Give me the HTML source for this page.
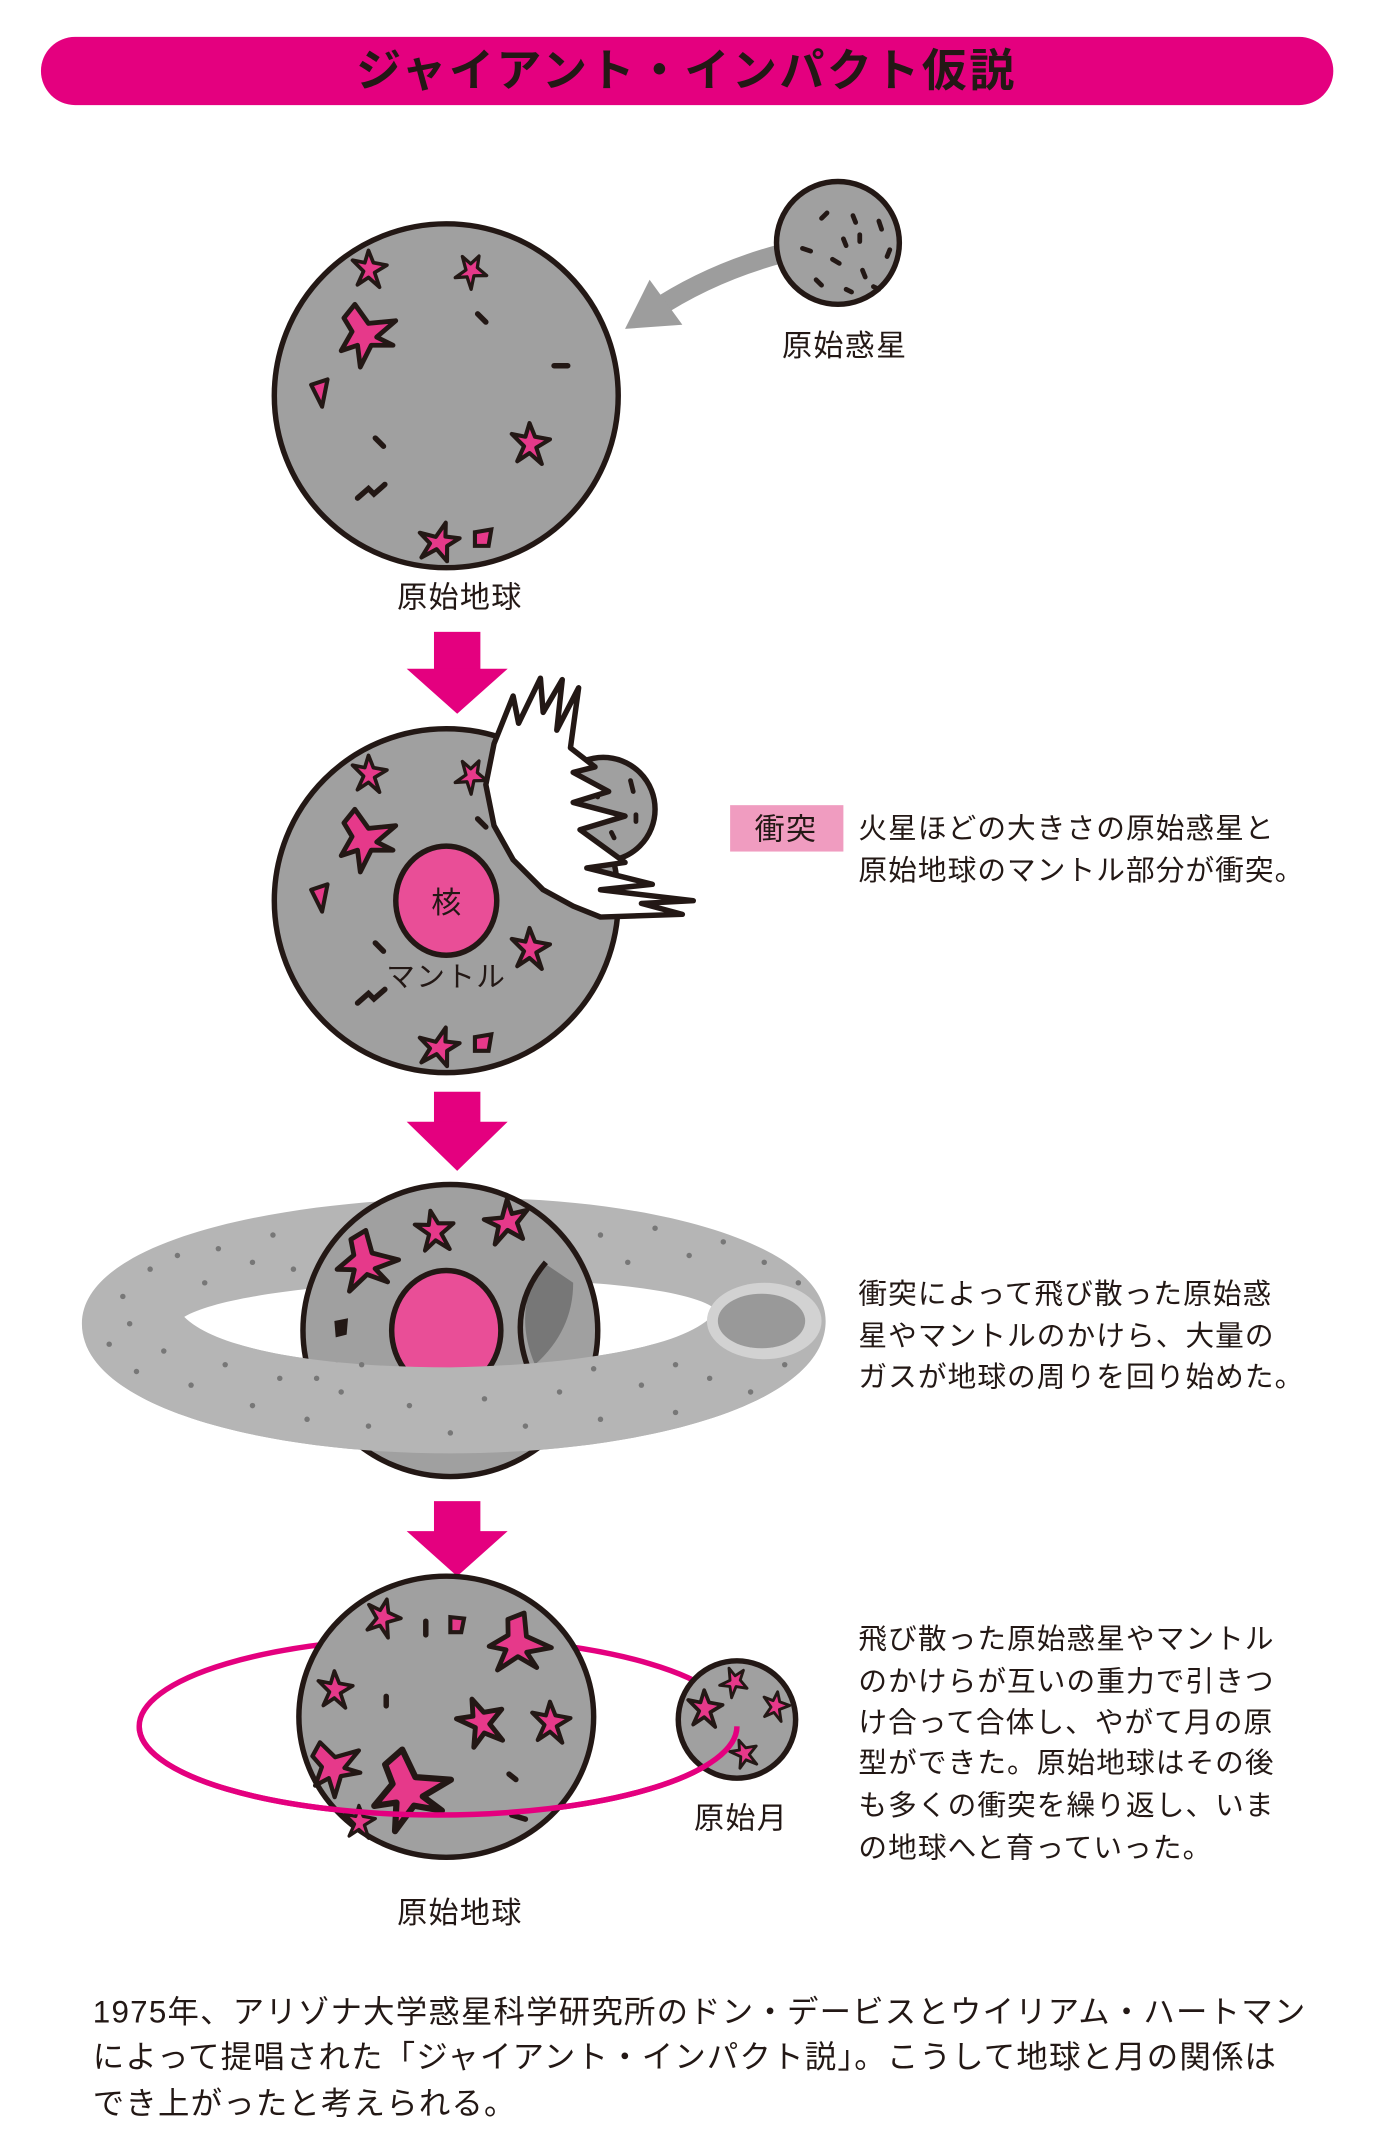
<!DOCTYPE html>
<html><head><meta charset="utf-8"><style>
html,body{margin:0;padding:0;background:#fff;}
svg{display:block;}
text{font-family:"Liberation Sans","Noto Sans CJK JP",sans-serif;fill:#231815;}
</style></head><body>
<svg width="1392" height="2148" viewBox="0 0 1020 1574" xmlns="http://www.w3.org/2000/svg">
<defs>
<path id="star" d="M0,-15 L4,-5 L15,-3 L5,3 L9,15 L0,7 L-9,13 L-4,2 L-13,-7 L-3,-5 Z" fill="#e6398a" stroke="#231815" stroke-width="3" stroke-linejoin="round"/>
<path id="bigstar" d="M-8,-22 L2,-8 L22,-10 L8,2 L20,8 L4,8 L-4,24 L-6,8 L-18,12 L-10,-2 L-16,-12 Z" fill="#e6398a" stroke="#231815" stroke-width="3.5" stroke-linejoin="round"/>
<g id="craters1">
<use href="#star" transform="translate(270,197) scale(0.9)"/>
<use href="#star" transform="translate(345,198) rotate(30) scale(0.8)"/>
<use href="#bigstar" transform="translate(268,245)"/>
<path d="M228,282 L240,278 L236,298 Z" fill="#e6398a" stroke="#231815" stroke-width="3" stroke-linejoin="round"/>
<use href="#star" transform="translate(388,325) scale(1)"/>
<use href="#star" transform="translate(322,397) rotate(80) scale(1)"/>
<path d="M348,390 L360,388 L358,400 L348,400 Z" fill="#e6398a" stroke="#231815" stroke-width="3"/>
<path d="M350,230 L356,236" stroke="#231815" stroke-width="4" stroke-linecap="round"/>
<path d="M406,268 L416,268" stroke="#231815" stroke-width="4" stroke-linecap="round"/>
<path d="M275,321 L281,327" stroke="#231815" stroke-width="4" stroke-linecap="round"/>
<path d="M262,365 L270,358 L274,362 L282,355" stroke="#231815" stroke-width="4" fill="none" stroke-linecap="round"/>
</g>
</defs>

<!-- title -->
<rect x="30" y="27" width="947" height="50" rx="25" fill="#e4007f"/>
<text x="503" y="63" font-size="33" font-weight="bold" text-anchor="middle" letter-spacing="1.8">ジャイアント・インパクト仮説</text>

<!-- stage 1 -->
<path d="M572,186 Q520,200 478,228" stroke="#9d9d9d" stroke-width="14" fill="none"/>
<polygon points="458,241 476,205 500,238" fill="#9d9d9d"/>
<circle cx="614" cy="178" r="45" fill="#a0a0a0" stroke="#231815" stroke-width="4"/>
<g stroke="#231815" stroke-width="3.5" stroke-linecap="round">
<path d="M602,160 L606,156"/><path d="M625,158 L627,163"/><path d="M644,162 L646,168"/><path d="M618,175 L620,180"/>
<path d="M630,172 L630,177"/><path d="M652,183 L650,188"/><path d="M588,182 L594,184"/><path d="M610,190 L615,193"/>
<path d="M632,198 L634,203"/><path d="M598,205 L602,209"/><path d="M620,212 L624,214"/><path d="M640,210 L644,212"/>
</g>
<circle cx="327" cy="290" r="126" fill="#a0a0a0" stroke="#231815" stroke-width="4"/>
<use href="#craters1"/>
<text x="619" y="261" font-size="22" text-anchor="middle" letter-spacing="1">原始惑星</text>
<text x="337" y="445" font-size="22" text-anchor="middle" letter-spacing="1">原始地球</text>

<rect x="318" y="463" width="34" height="28" fill="#e4007f"/>
<polygon points="298,490 372,490 335,523" fill="#e4007f"/>

<!-- stage 2 -->
<circle cx="327" cy="660" r="126" fill="#a0a0a0" stroke="#231815" stroke-width="4"/>
<use href="#craters1" transform="translate(0,370)"/>
<circle cx="442" cy="593" r="38" fill="#a0a0a0" stroke="#231815" stroke-width="4"/>
<g stroke="#231815" stroke-width="3.5" stroke-linecap="round"><path d="M462,572 L464,580"/><path d="M466,597 L466,602"/><path d="M448,610 L450,614"/><path d="M434,580 L438,584"/></g>
<path d="M362,545 L376,510 L380,530 L396,497 L398,522 L412,498 L408,535 L424,504 L418,548 L436,562 L420,566 L446,580 L420,588 L458,598 L425,608 L458,632 L430,636 L478,648 L440,652 L508,660 L470,662 L500,670 L440,672 L420,664 L398,652 L376,630 L362,605 L356,575 Z" fill="#fff" stroke="#231815" stroke-width="4" stroke-linejoin="round"/>
<ellipse cx="327" cy="660" rx="37" ry="40" fill="#e94e97" stroke="#231815" stroke-width="4"/>
<text x="327" y="669" font-size="22" text-anchor="middle">核</text>
<text x="327" y="723" font-size="21" text-anchor="middle" letter-spacing="1">マントル</text>

<rect x="535" y="590" width="83" height="34" fill="#f09cc0"/>
<text x="576" y="615" font-size="22" text-anchor="middle" letter-spacing="1">衝突</text>
<text x="629" y="614" font-size="21" letter-spacing="0.8">火星ほどの大きさの原始惑星と</text>
<text x="629" y="645" font-size="21" letter-spacing="0.8">原始地球のマントル部分が衝突。</text>

<rect x="318" y="800" width="34" height="23" fill="#e4007f"/>
<polygon points="298,822 372,822 335,858" fill="#e4007f"/>

<!-- stage 3 -->
<path fill-rule="evenodd" fill="#b5b5b5" d="M60,970 C60,910 200,880 330,878 C470,875 605,910 605,968 C605,1030 470,1065 330,1065 C190,1065 60,1030 60,970 Z M135,965 C160,950 240,940 330,938 C430,936 510,945 525,960 C510,985 430,1000 330,1002 C240,1002 160,990 135,965 Z"/>
<ellipse cx="330" cy="975" rx="108" ry="107" fill="#a0a0a0" stroke="#231815" stroke-width="4"/>
<path d="M398,925 Q375,960 392,1000 Q420,975 420,940 Z" fill="#777"/>
<path d="M400,925 Q370,960 388,1005" stroke="#231815" stroke-width="4" fill="none"/>
<use href="#bigstar" transform="translate(268,925) rotate(20)"/>
<use href="#star" transform="translate(318,902) rotate(-10)"/>
<use href="#star" transform="translate(372,895) rotate(60) scale(1.1)"/>
<path d="M245,968 L255,966 L254,978 L246,980 Z" fill="#231815"/>
<path d="M245,1000 L258,1002" stroke="#231815" stroke-width="4" stroke-linecap="round"/>
<ellipse cx="327" cy="975" rx="40" ry="44" fill="#e94e97" stroke="#231815" stroke-width="4"/>
<clipPath id="front"><rect x="0" y="985" width="1020" height="200"/></clipPath>
<path clip-path="url(#front)" fill-rule="evenodd" fill="#b5b5b5" d="M60,970 C60,910 200,880 330,878 C470,875 605,910 605,968 C605,1030 470,1065 330,1065 C190,1065 60,1030 60,970 Z M135,965 C160,950 240,940 330,938 C430,936 510,945 525,960 C510,985 430,1000 330,1002 C240,1002 160,990 135,965 Z"/>
<ellipse cx="560" cy="968" rx="42" ry="28" fill="#d2d2d2"/>
<ellipse cx="558" cy="968" rx="32" ry="20" fill="#999"/>
<g fill="#777">
<circle cx="90" cy="950" r="2"/><circle cx="110" cy="930" r="2"/><circle cx="130" cy="920" r="2"/><circle cx="160" cy="915" r="2"/><circle cx="185" cy="925" r="2"/><circle cx="200" cy="905" r="2"/><circle cx="150" cy="940" r="2"/>
<circle cx="80" cy="985" r="2"/><circle cx="100" cy="1005" r="2"/><circle cx="120" cy="990" r="2"/><circle cx="140" cy="1015" r="2"/><circle cx="165" cy="1000" r="2"/><circle cx="185" cy="1030" r="2"/><circle cx="205" cy="1010" r="2"/>
<circle cx="225" cy="1040" r="2"/><circle cx="250" cy="1020" r="2"/><circle cx="270" cy="1045" r="2"/><circle cx="300" cy="1030" r="2"/><circle cx="330" cy="1050" r="2"/><circle cx="355" cy="1025" r="2"/><circle cx="385" cy="1045" r="2"/>
<circle cx="410" cy="1020" r="2"/><circle cx="440" cy="1040" r="2"/><circle cx="470" cy="1015" r="2"/><circle cx="495" cy="1035" r="2"/><circle cx="520" cy="1010" r="2"/><circle cx="550" cy="1020" r="2"/><circle cx="575" cy="1000" r="2"/>
<circle cx="440" cy="905" r="2"/><circle cx="460" cy="925" r="2"/><circle cx="480" cy="900" r="2"/><circle cx="505" cy="920" r="2"/><circle cx="530" cy="910" r="2"/><circle cx="560" cy="925" r="2"/><circle cx="585" cy="940" r="2"/>
<circle cx="215" cy="930" r="2"/><circle cx="95" cy="970" r="2"/><circle cx="232" cy="1010" r="2"/><circle cx="265" cy="1000" r="2"/><circle cx="435" cy="1003" r="2"/><circle cx="495" cy="1000" r="2"/>
</g>
<text x="629" y="955" font-size="21" letter-spacing="0.8">衝突によって飛び散った原始惑</text>
<text x="629" y="986" font-size="21" letter-spacing="0.8">星やマントルのかけら、大量の</text>
<text x="629" y="1016" font-size="21" letter-spacing="0.8">ガスが地球の周りを回り始めた。</text>

<rect x="318" y="1100" width="34" height="24" fill="#e4007f"/>
<polygon points="298,1122 372,1122 335,1155" fill="#e4007f"/>

<!-- stage 4 -->
<ellipse cx="321" cy="1265" rx="219" ry="65" fill="none" stroke="#e4007f" stroke-width="4"/>
<ellipse cx="327" cy="1258" rx="108" ry="103" fill="#a0a0a0" stroke="#231815" stroke-width="4"/>
<use href="#star" transform="translate(280,1185) rotate(15) scale(0.9)"/>
<path d="M312,1188 L312,1198" stroke="#231815" stroke-width="4" stroke-linecap="round"/>
<path d="M330,1185 L340,1186 L338,1196 L330,1196 Z" fill="#e6398a" stroke="#231815" stroke-width="3"/>
<use href="#bigstar" transform="translate(380,1205) rotate(30)"/>
<use href="#star" transform="translate(245,1238) scale(0.9)"/>
<path d="M283,1243 L283,1250" stroke="#231815" stroke-width="4" stroke-linecap="round"/>
<use href="#star" transform="translate(352,1262) rotate(-20) scale(1.2)"/>
<use href="#star" transform="translate(403,1262) scale(1)"/>
<use href="#bigstar" transform="translate(245,1295) rotate(-10) scale(0.9)"/>
<use href="#bigstar" transform="translate(300,1312) rotate(10) scale(1.3)"/>
<path d="M373,1300 L378,1304" stroke="#231815" stroke-width="4" stroke-linecap="round"/>
<use href="#star" transform="translate(263,1335) scale(0.8)"/>
<path d="M375,1330 L385,1333" stroke="#231815" stroke-width="4" stroke-linecap="round"/>
<circle cx="540" cy="1260" r="43" fill="#a0a0a0" stroke="#231815" stroke-width="4"/>
<use href="#star" transform="translate(516,1252) scale(0.9)"/>
<use href="#star" transform="translate(538,1232) rotate(40) scale(0.7)"/>
<use href="#star" transform="translate(568,1250) rotate(10) scale(0.7)"/>
<use href="#star" transform="translate(545,1285) rotate(-20) scale(0.7)"/>
<path d="M102,1265 A219,65 0 0 0 540,1265" fill="none" stroke="#e4007f" stroke-width="4"/>
<text x="543" y="1340" font-size="22" text-anchor="middle" letter-spacing="1">原始月</text>
<text x="337" y="1409" font-size="22" text-anchor="middle" letter-spacing="1">原始地球</text>

<text x="629" y="1208" font-size="21" letter-spacing="0.8">飛び散った原始惑星やマントル</text>
<text x="629" y="1239" font-size="21" letter-spacing="0.8">のかけらが互いの重力で引きつ</text>
<text x="629" y="1269" font-size="21" letter-spacing="0.8">け合って合体し、やがて月の原</text>
<text x="629" y="1299" font-size="21" letter-spacing="0.8">型ができた。原始地球はその後</text>
<text x="629" y="1330" font-size="21" letter-spacing="0.8">も多くの衝突を繰り返し、いま</text>
<text x="629" y="1361" font-size="21" letter-spacing="0.8">の地球へと育っていった。</text>

<text x="68" y="1482" font-size="23" letter-spacing="0.9">1975年、アリゾナ大学惑星科学研究所のドン・デービスとウイリアム・ハートマン</text>
<text x="68" y="1515" font-size="23" letter-spacing="0.9">によって提唱された「ジャイアント・インパクト説」。こうして地球と月の関係は</text>
<text x="68" y="1549" font-size="23" letter-spacing="0.9">でき上がったと考えられる。</text>
</svg>
</body></html>
